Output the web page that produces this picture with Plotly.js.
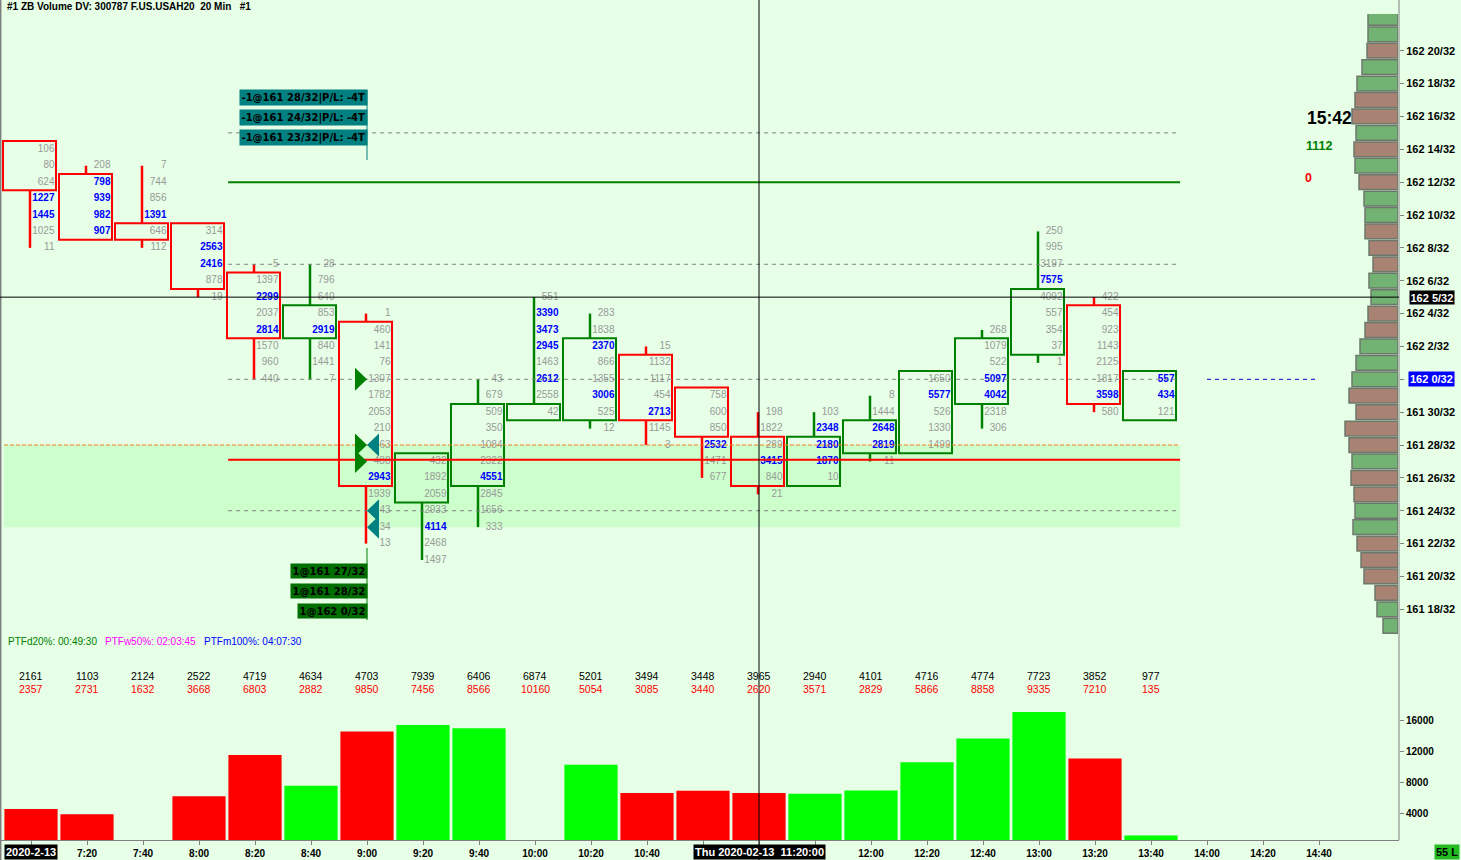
<!DOCTYPE html>
<html>
<head>
<meta charset="utf-8">
<script src="https://cdn.plot.ly/plotly-3.0.1.min.js"></script>
<style>
html,body{margin:0;padding:0;background:#e6ffe6;overflow:hidden;}
#chart{width:1461px;height:860px;}
</style>
</head>
<body>
<div id="chart"></div>
<script>
// ================= DATA =================
// prices are expressed in 32nds above 161 (e.g. 52 -> 162 20/32)
const timeLabels = ['7:00','7:20','7:40','8:00','8:20','8:40','9:00','9:20','9:40','10:00','10:20','10:40',
                    '11:00','11:20','11:40','12:00','12:20','12:40','13:00','13:20','13:40','14:00','14:20','14:40'];
const opens  = [46,44,41,41,38,35,35,25,26,30,30,33,31,28,26,28,28,31,34,36,30];
const highs  = [46,45,45,41,39,39,36,27,32,37,36,34,31,30,30,31,32,35,41,37,32];
const lows   = [40,41,40,37,32,32,22,21,23,30,29,28,26,25,26,27,28,29,33,30,30];
const closes = [44,41,41,38,35,36,26,27,30,30,34,30,29,26,28,29,32,34,37,31,32];
const candleDir = [-1,-1,-1,-1,-1,1,-1,1,1,1,1,-1,-1,-1,1,1,1,1,1,-1,1];

// footprint volume per price row, from the high downwards
const fpVolumes = [
  [106,80,624,1227,1445,1025,11],
  [208,798,939,982,907],
  [7,744,856,1391,646,112],
  [314,2563,2416,878,19],
  [5,1397,2299,2037,2814,1570,960,440],
  [28,796,640,853,2919,840,1441,7],
  [1,460,141,76,1307,1782,2053,210,63,488,2943,1939,43,34,13],
  [432,1892,2059,2933,4114,2468,1497],
  [43,679,509,350,1084,2322,4551,2845,1656,333],
  [551,3390,3473,2945,1463,2612,2558,42],
  [283,1838,2370,866,1355,3006,525,12],
  [15,1132,1117,454,2713,1145,3],
  [758,600,850,2532,1471,677],
  [198,1822,289,3415,840,21],
  [103,2348,2180,1870,10],
  [8,1444,2648,2819,11],
  [1650,5577,526,1330,1499],
  [268,1079,522,5097,4042,2318,306],
  [250,995,3197,7575,4092,557,354,37,1],
  [422,454,923,1143,2125,1817,3598,580],
  [557,434,121]
];
// rows (index from the high) that are highlighted in blue
const fpHot = [[3,4],[1,2,3,4],[3],[1,2],[2,4],[4],[10],[4],[6],[1,2,3,5],[2,5],[4],[3],[3],[1,2,3],[2,3],[1],[3,4],[3],[6],[0,1]];

const askVol = [2161,1103,2124,2522,4719,4634,4703,7939,6406,6874,5201,3494,3448,3965,2940,4101,4716,4774,7723,3852,977];
const bidVol = [2357,2731,1632,3668,6803,2882,9850,7456,8566,10160,5054,3085,3440,2620,3571,2829,5866,8858,9335,7210,135];

// volume profile (right side)
const profPrices = [54,53,52,51,50,49,48,47,46,45,44,43,42,41,40,39,38,37,36,35,34,33,32,31,30,29,28,27,26,25,24,23,22,21,20,19,18,17];
const profVol = [7500,7500,7750,9000,10250,10750,11500,10500,11000,10750,9750,8500,8250,8250,7250,6250,7250,6750,7500,8250,
                 9500,10500,11500,12250,10500,13250,12250,11500,11750,11000,10750,11250,10250,9250,8500,5750,5250,3750];
const profUp  = [1,1,0,1,1,0,0,1,0,1,0,1,1,0,0,0,1,1,0,0,1,1,1,0,0,0,0,1,0,0,1,1,0,0,0,0,1,1];

const volTicks = [4000,8000,12000,16000];
const dashedLevels = [47,39,32,24];
const greenLevel = 44;
const redLevel = 27.1;
const orangeLevel = 28;
const zoneRange = [23,28];
const lastPrice = 32;
const cursorPrice = 37;
const cursorBar = 13;
const tradeBar = 6;
const sellPrices = [28,24,23];
const buyPrices = [27,28,32];
const ptfLabels = ['PTFd20%: 00:49:30','PTFw50%: 02:03:45','PTFm100%: 04:07:30'];

// ================= HELPERS =================
const W = 1461, H = 860;
const AX = 1399;               // price axis x (px)
const SLOT = 56, X0 = 31;      // px per bar, px of bar 0
const LS = 'Liberation Sans, Arial, sans-serif';
const DJ = 'DejaVu Sans, Verdana, sans-serif';
const UP = '#008000', DOWN = '#ff0000';
const fmtPrice = p => (161 + Math.floor(p/32)) + ' ' + (p % 32) + '/32';
const px = v => v / W;
const py = v => 1 - v / H;

// ================= TRACES =================
const traces = [];

// footprint numbers
const gx=[],gy=[],gt=[],bx=[],by=[],bt=[];
fpVolumes.forEach((vals,i)=>{
  vals.forEach((v,k)=>{
    const p = highs[i]-k;
    if (fpHot[i].includes(k)) { bx.push(i+23.5/SLOT); by.push(p); bt.push(String(v)); }
    else { gx.push(i+23.5/SLOT); gy.push(p); gt.push(String(v)); }
  });
});
traces.push({type:'scatter',mode:'text',x:gx,y:gy,text:gt,textposition:'middle left',xaxis:'x',yaxis:'y',
  textfont:{family:LS,size:10,color:'#999999'},hoverinfo:'skip',cliponaxis:false});
traces.push({type:'scatter',mode:'text',x:bx,y:by,text:bt,textposition:'middle left',xaxis:'x',yaxis:'y',
  textfont:{family:LS,size:10,color:'#0000ff',weight:'bold'},hoverinfo:'skip',cliponaxis:false});

// volume bars
const barIdx = askVol.map((_,i)=>i);
const totVol = askVol.map((a,i)=>a+bidVol[i]);
const barCol = barIdx.map(i => opens[i]===closes[i] ? 'rgba(0,0,0,0)' : (candleDir[i]>0 ? '#00ff00' : '#ff0000'));
traces.push({type:'bar',x:barIdx,y:totVol,xaxis:'x',yaxis:'y2',width:0.95,marker:{color:barCol,line:{width:0}},hoverinfo:'skip'});

// volume profile
traces.push({type:'bar',orientation:'h',x:profVol,y:profPrices,xaxis:'x2',yaxis:'y',width:0.9,
  marker:{color:profUp.map(u=>u?'#72b272':'#a88272'),line:{color:'#6c786c',width:1.5}},hoverinfo:'skip'});

// ================= SHAPES =================
const shapes = [];
// highlight zone
shapes.push({type:'rect',xref:'x',yref:'y',x0:-27/SLOT,x1:20.52,y0:zoneRange[0],y1:zoneRange[1],
  fillcolor:'#ccffcc',line:{width:0},layer:'below'});
// candles
opens.forEach((o,i)=>{
  const c = closes[i], col = candleDir[i]>0 ? UP : DOWN;
  const top = Math.max(o,c)+0.5, bot = Math.min(o,c)-0.5;
  const wx = i - 1/SLOT;
  if (highs[i] > top) shapes.push({type:'line',xref:'x',yref:'y',x0:wx,x1:wx,y0:top,y1:highs[i],line:{color:col,width:2.5},layer:'below'});
  if (lows[i] < bot) shapes.push({type:'line',xref:'x',yref:'y',x0:wx,x1:wx,y0:bot,y1:lows[i],line:{color:col,width:2.5},layer:'below'});
  shapes.push({type:'rect',xref:'x',yref:'y',x0:i-28/SLOT,x1:i+25/SLOT,y0:bot,y1:top,
    line:{color:col,width:2},fillcolor:'rgba(0,0,0,0)',layer:'below'});
});
// level lines
dashedLevels.forEach(p=>shapes.push({type:'line',xref:'x',yref:'y',x0:3.52,x1:20.52,y0:p,y1:p,line:{color:'#808080',width:1,dash:'4px,4px'},layer:'above'}));
shapes.push({type:'line',xref:'x',yref:'y',x0:-27/SLOT,x1:20.52,y0:orangeLevel,y1:orangeLevel,line:{color:'#f08020',width:1,dash:'4px,2px'},layer:'above'});
shapes.push({type:'line',xref:'x',yref:'y',x0:3.52,x1:20.52,y0:greenLevel,y1:greenLevel,line:{color:'#008000',width:2},layer:'above'});
shapes.push({type:'line',xref:'x',yref:'y',x0:3.52,x1:20.52,y0:redLevel,y1:redLevel,line:{color:'#ff0000',width:2},layer:'above'});
shapes.push({type:'line',xref:'x',yref:'y',x0:21,x1:23,y0:lastPrice,y1:lastPrice,line:{color:'#0000cc',width:1,dash:'4px,4px'},layer:'above'});
// trade markers (triangles)
const tw = 12/SLOT;
buyPrices.forEach(p=>shapes.push({type:'path',xref:'x',yref:'y',
  path:`M ${tradeBar-tw} ${p+0.7} L ${tradeBar} ${p} L ${tradeBar-tw} ${p-0.7} Z`,fillcolor:'#008000',line:{width:0},layer:'above'}));
sellPrices.forEach(p=>shapes.push({type:'path',xref:'x',yref:'y',
  path:`M ${tradeBar+tw} ${p+0.7} L ${tradeBar} ${p} L ${tradeBar+tw} ${p-0.7} Z`,fillcolor:'#008080',line:{width:0},layer:'above'}));
// trade label stems
shapes.push({type:'line',xref:'x',yref:'paper',x0:tradeBar,x1:tradeBar,y0:py(160),y1:py(90),line:{color:'#008080',width:1},layer:'above'});
shapes.push({type:'line',xref:'x',yref:'paper',x0:tradeBar,x1:tradeBar,y0:py(620),y1:py(548),line:{color:'#008000',width:1},layer:'above'});
// frame lines
shapes.push({type:'line',xref:'paper',yref:'paper',x0:px(AX),x1:px(AX),y0:py(840),y1:1,line:{color:'#808080',width:1},layer:'above'});
shapes.push({type:'line',xref:'paper',yref:'paper',x0:px(0.7),x1:px(0.7),y0:0,y1:1,line:{color:'#808080',width:1.5},layer:'above'});
// crosshair
shapes.push({type:'line',xref:'paper',yref:'y',x0:0,x1:px(AX),y0:cursorPrice,y1:cursorPrice,line:{color:'#000000',width:1},layer:'above'});
shapes.push({type:'line',xref:'x',yref:'paper',x0:cursorBar,x1:cursorBar,y0:0,y1:1,line:{color:'#000000',width:1},layer:'above'});

// ================= ANNOTATIONS =================
const anns = [];
function A(text, xPx, yPx, o) {
  return Object.assign({xref:'paper',yref:'paper',x:px(xPx),y:py(yPx),text:text,showarrow:false,
    xanchor:'left',yanchor:'middle',font:{family:LS,size:10,color:'#000'}}, o||{});
}
anns.push(A('#1 ZB Volume DV: 300787 F.US.USAH20\u00a0\u00a020 Min\u00a0\u00a0\u00a0#1', 5, 7, {font:{family:LS,size:10,color:'#000',weight:'bold'}}));
anns.push(A('15:42', 1329.5, 118.5, {xanchor:'center',font:{family:LS,size:17.5,color:'#000',weight:'bold'}}));
anns.push(A(String(totVol[totVol.length-1]), 1319, 146.5, {xanchor:'center',font:{family:LS,size:12.5,color:'#008000',weight:'bold'}}));
anns.push(A('0', 1308.3, 177.5, {xanchor:'center',font:{family:LS,size:12.5,color:'#ff0000',weight:'bold'}}));
const ptfCols = ['#008000','#ff00ff','#0000ff'];
const ptfX = [5.5,103,201.5];
ptfLabels.forEach((t,k)=>anns.push(A(t, ptfX[k], 641.5, {font:{family:LS,size:10,color:ptfCols[k]}})));
// volume numbers
askVol.forEach((v,i)=>{
  anns.push({xref:'x',yref:'paper',x:i,y:py(676),text:String(v),showarrow:false,xanchor:'center',yanchor:'middle',
    font:{family:LS,size:10.5,color:'#000'}});
  anns.push({xref:'x',yref:'paper',x:i,y:py(689),text:String(bidVol[i]),showarrow:false,xanchor:'center',yanchor:'middle',
    font:{family:LS,size:10.5,color:'#ff0000'}});
});
// trade labels
sellPrices.forEach((p,k)=>anns.push({xref:'x',yref:'paper',x:tradeBar,xshift:1,y:py(97+20*k),xanchor:'right',yanchor:'middle',
  text:'-1@'+fmtPrice(p)+'|P/L: -4T',showarrow:false,bgcolor:'#008080',borderpad:1.5,
  font:{family:DJ,size:10,color:'#000',weight:'bold'}}));
buyPrices.forEach((p,k)=>anns.push({xref:'x',yref:'paper',x:tradeBar,xshift:1,y:py(571+20*k),xanchor:'right',yanchor:'middle',
  text:'1@'+fmtPrice(p),showarrow:false,bgcolor:'#006e00',borderpad:1.5,
  font:{family:DJ,size:10,color:'#000',weight:'bold'}}));
// price axis boxes
anns.push({xref:'paper',yref:'y',x:px(1431.5),y:cursorPrice,xanchor:'center',yanchor:'middle',text:fmtPrice(cursorPrice),
  showarrow:false,bgcolor:'#000000',borderpad:0.5,font:{family:LS,size:11,color:'#ffffff',weight:'bold'}});
anns.push({xref:'paper',yref:'y',x:px(1431.5),y:lastPrice,xanchor:'center',yanchor:'middle',text:fmtPrice(lastPrice),
  showarrow:false,bgcolor:'#0000ff',borderpad:1,font:{family:LS,size:11,color:'#ffffff',weight:'bold'}});
// time axis boxes
anns.push({xref:'x',yref:'paper',x:0,y:py(852),xanchor:'center',yanchor:'middle',text:'2020-2-13',showarrow:false,
  bgcolor:'#000000',borderpad:1,font:{family:LS,size:11,color:'#ffffff',weight:'bold'}});
anns.push({xref:'x',yref:'paper',x:cursorBar,y:py(852),xanchor:'center',yanchor:'middle',text:'Thu 2020-02-13\u00a0\u00a011:20:00',showarrow:false,
  bgcolor:'#000000',borderpad:1,font:{family:LS,size:11,color:'#ffffff',weight:'bold'}});
anns.push(A('55 L', 1447, 852, {xanchor:'center',bgcolor:'#22bb22',borderpad:1,font:{family:LS,size:11,color:'#000',weight:'bold'}}));

// ================= LAYOUT =================
const priceTicks = [];
for (let p = 18; p <= 52; p += 2) priceTicks.push(p);
// labels hidden under the highlighted boxes are left blank
const priceTickText = priceTicks.map(p => p === lastPrice ? '' : fmtPrice(p));
const xTickText = timeLabels.map((t,i)=> (i===0 || Math.abs(i-cursorBar)<=1) ? '' : t);

const layout = {
  width: W, height: H,
  margin: {l:0,r:0,t:0,b:0,pad:0},
  paper_bgcolor: '#e6ffe6', plot_bgcolor: '#e6ffe6',
  showlegend: false, barmode: 'overlay',
  font: {family: LS, size: 10, color: '#000'},
  xaxis: {domain:[0, px(AX)], range:[-X0/SLOT, (AX-X0)/SLOT], anchor:'y2',
    tickvals: timeLabels.map((_,i)=>i), ticktext: xTickText, ticks:'outside', ticklen:4, tickcolor:'#808080',
    showline:true, linecolor:'#808080', linewidth:1, showgrid:false, zeroline:false, fixedrange:true,
    tickfont:{family:LS,size:10,color:'#000',weight:'bold'}},
  yaxis: {domain:[py(660), py(14)], range:[52-(660-50.7)/16.43, 52-(14-50.7)/16.43], anchor:'free', position:px(AX), side:'right',
    tickvals: priceTicks, ticktext: priceTickText, ticks:'outside', ticklen:4, tickcolor:'#808080',
    showline:false, showgrid:false, zeroline:false, fixedrange:true,
    tickfont:{family:LS,size:11,color:'#000',weight:'bold'}},
  yaxis2: {domain:[py(840), py(700)], range:[(844-840)*129.3, (844-700)*129.3], anchor:'free', position:px(AX), side:'right',
    tickvals: volTicks, ticktext: volTicks.map(String), ticks:'outside', ticklen:4, tickcolor:'#808080',
    showline:false, showgrid:false, zeroline:false, fixedrange:true,
    tickfont:{family:LS,size:10,color:'#000',weight:'bold'}},
  xaxis2: {domain:[px(1298), px(1398)], range:[25000, 0], anchor:'y', visible:false, fixedrange:true},
  shapes: shapes,
  annotations: anns
};

Plotly.newPlot('chart', traces, layout, {staticPlot:true, displayModeBar:false});
</script>
</body>
</html>
